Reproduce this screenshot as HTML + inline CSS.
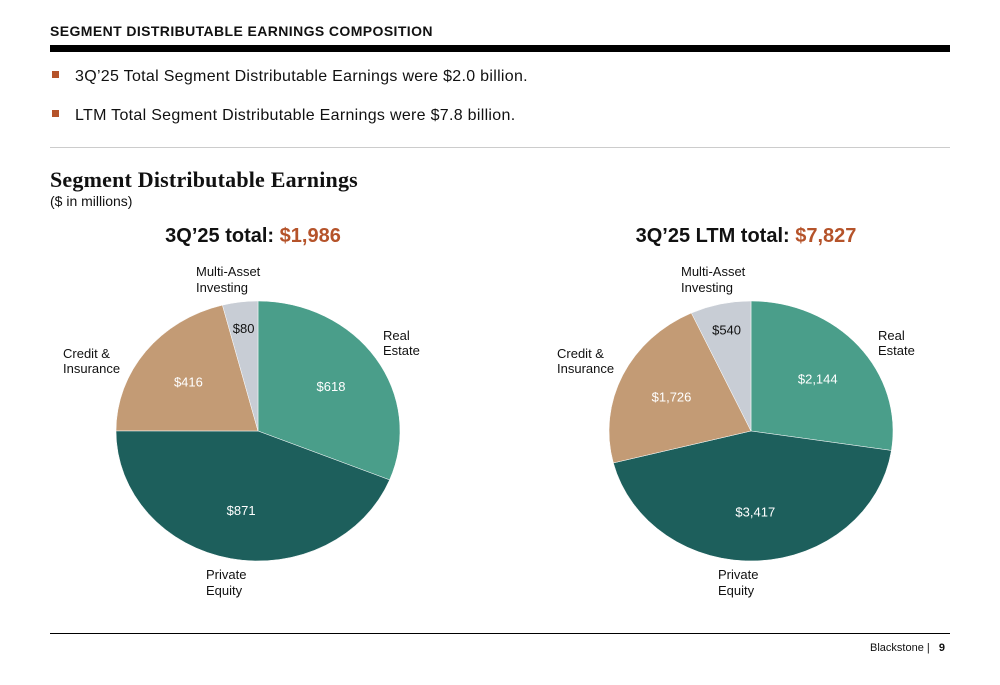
<!DOCTYPE html>
<html><head><meta charset="utf-8">
<style>
body{margin:0;width:1000px;height:685px;background:#fff;font-family:"Liberation Sans","DejaVu Sans",sans-serif;position:relative;overflow:hidden;color:#111}
.abs{position:absolute}
</style></head><body>
<div class="abs" style="left:50px;top:23px;font-size:14px;font-weight:bold;letter-spacing:0.4px">SEGMENT DISTRIBUTABLE EARNINGS COMPOSITION</div>
<div class="abs" style="left:50px;top:45px;width:900px;height:7px;background:#000"></div>
<div class="abs" style="left:52px;top:68px;font-size:16px;letter-spacing:0.3px"><span style="display:inline-block;width:7px;height:7px;background:#b5532a;margin-right:16px;vertical-align:3px"></span>3Q’25 Total Segment Distributable Earnings were $2.0 billion.</div>
<div class="abs" style="left:52px;top:107px;font-size:16px;letter-spacing:0.3px"><span style="display:inline-block;width:7px;height:7px;background:#b5532a;margin-right:16px;vertical-align:3px"></span>LTM Total Segment Distributable Earnings were $7.8 billion.</div>
<div class="abs" style="left:50px;top:147px;width:900px;height:1px;background:#ccc"></div>
<div class="abs" style="left:50px;top:167px;font-family:'Liberation Serif',serif;font-size:22px;font-weight:bold;letter-spacing:0.2px">Segment Distributable Earnings</div>
<div class="abs" style="left:50px;top:193px;font-size:14px">($ in millions)</div>
<svg class="abs" style="left:0;top:0" width="1000" height="685" id="chart"></svg>
<div class="abs" style="left:50px;top:633px;width:900px;height:1px;background:#000"></div>
<div class="abs" style="left:870px;top:642px;font-size:11px">Blackstone&nbsp;|&nbsp;&nbsp;&nbsp;<b>9</b></div>
<script>
const segments=["Real Estate","Private Equity","Credit & Insurance","Multi-Asset Investing"];
const q3Values=[618,871,416,80];
const ltmValues=[2144,3417,1726,540];
const q3Labels=["$618","$871","$416","$80"];
const ltmLabels=["$2,144","$3,417","$1,726","$540"];
const colors=["#4a9e8a","#1d5f5c","#c39b75","#c8cdd5"];
const svg=document.getElementById('chart');
const NS="http://www.w3.org/2000/svg";
function txt(x,y,s,opt){const t=document.createElementNS(NS,'text');t.setAttribute('x',x);t.setAttribute('y',y);t.setAttribute('font-size',opt.size||13);t.setAttribute('fill',opt.fill||'#111');t.setAttribute('text-anchor',opt.anchor||'middle');if(opt.bold)t.setAttribute('font-weight','bold');t.innerHTML=s;svg.appendChild(t);return t;}
function pie(cx,cy,rx,ry,vals,labels,name,title,total,pos){
  const sum=vals.reduce((a,b)=>a+b,0);let a0=0;
  vals.forEach((v,i)=>{
    const a1=a0+v/sum*2*Math.PI;
    const p=(a)=>[cx+rx*Math.sin(a),cy-ry*Math.cos(a)];
    const [x0,y0]=p(a0),[x1,y1]=p(a1);
    const large=(a1-a0)>Math.PI?1:0;
    const path=document.createElementNS(NS,'path');
    path.setAttribute('d',`M${cx},${cy}L${x0},${y0}A${rx},${ry} 0 ${large} 1 ${x1},${y1}Z`);
    path.setAttribute('fill',colors[i]);path.setAttribute('stroke','#fff');path.setAttribute('stroke-width','0.5');
    
    
    svg.appendChild(path);
    const m=(a0+a1)/2;const f=v/sum<0.08?0.8:0.62;
    const t=txt(cx+rx*f*Math.sin(m),cy-ry*f*Math.cos(m)+5,labels[i],{fill:i==3?'#111':'#fff',size:13});
    
    
    a0=a1;
  });
  const tt=txt(cx-5,242,title+' <tspan fill="#b5532a">'+total+'</tspan>',{size:20,bold:true});
  
  
  const L=[[pos[0],276,"Multi-Asset"],[pos[0],292,"Investing"],[pos[1],340,"Real"],[pos[1],355,"Estate"],[pos[2],358,"Credit &amp;"],[pos[2],373,"Insurance"],[pos[3],579,"Private"],[pos[3],595,"Equity"]];
  L.forEach(l=>{const t=txt(l[0],l[1],l[2],{anchor:'start',size:13});
    
    });
}
pie(258,431,142,130,q3Values,q3Labels,'q3-pie','3Q’25 total:','$1,986',[196,383,63,206]);
pie(751,431,142,130,ltmValues,ltmLabels,'ltm-pie','3Q’25 LTM total:','$7,827',[681,878,557,718]);
</script>
</body></html>
